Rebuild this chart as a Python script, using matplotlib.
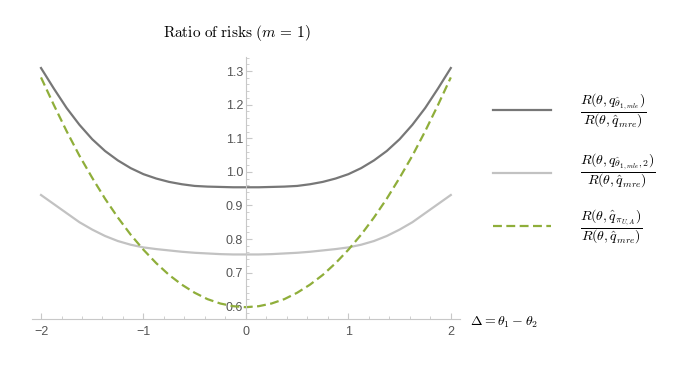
import matplotlib
matplotlib.use("Agg")
import matplotlib.pyplot as plt
from matplotlib.lines import Line2D
from matplotlib.ticker import MultipleLocator

plt.rcParams['mathtext.fontset'] = 'cm'
plt.rcParams['font.family'] = ['Liberation Sans', 'DejaVu Sans']

# values, step 0.125 in Delta
delta = [-2.0, -1.875, -1.75, -1.625, -1.5, -1.375, -1.25, -1.125, -1.0,
         -0.875, -0.75, -0.625, -0.5, -0.375, -0.25, -0.125, 0.0,
         0.125, 0.25, 0.375, 0.5, 0.625, 0.75, 0.875, 1.0,
         1.125, 1.25, 1.375, 1.5, 1.625, 1.75, 1.875, 2.0]
ratio_mle = [1.309, 1.248, 1.190, 1.140, 1.097, 1.062, 1.034, 1.011, 0.993,
             0.980, 0.970, 0.963, 0.958, 0.956, 0.955, 0.954, 0.954,
             0.954, 0.955, 0.956, 0.958, 0.963, 0.970, 0.980, 0.993,
             1.011, 1.034, 1.062, 1.097, 1.140, 1.190, 1.248, 1.309]
ratio_mle2 = [0.931, 0.904, 0.877, 0.850, 0.828, 0.809, 0.794, 0.783, 0.775,
              0.770, 0.766, 0.762, 0.759, 0.757, 0.755, 0.754, 0.754,
              0.754, 0.755, 0.757, 0.759, 0.762, 0.766, 0.770, 0.775,
              0.783, 0.794, 0.809, 0.828, 0.850, 0.877, 0.904, 0.931]
ratio_pi = [1.281, 1.199, 1.121, 1.048, 0.982, 0.920, 0.864, 0.813, 0.768,
            0.728, 0.693, 0.664, 0.640, 0.621, 0.608, 0.600, 0.597,
            0.600, 0.608, 0.621, 0.640, 0.664, 0.693, 0.728, 0.768,
            0.813, 0.864, 0.920, 0.982, 1.048, 1.121, 1.199, 1.281]

labels = [r'$\dfrac{R(\theta,q_{\hat{\theta}_{1,mle}})}{R(\theta,\hat{q}_{mre})}$',
          r'$\dfrac{R(\theta,q_{\hat{\theta}_{1,mle},2})}{R(\theta,\hat{q}_{mre})}$',
          r'$\dfrac{R(\theta,\hat{q}_{\pi_{U,A}})}{R(\theta,\hat{q}_{mre})}$']

c_dark = '#777777'
c_light = '#c2c2c2'
c_green = '#8fae3a'
axis_col = '#c8c8c8'

fig = plt.figure(figsize=(6.78, 3.69), dpi=100)
ax = fig.add_axes([0.0472, 0.1347, 0.631, 0.711])

l1, = ax.plot(delta, ratio_mle, color=c_dark, lw=1.6)
l2, = ax.plot(delta, ratio_mle2, color=c_light, lw=1.6)
l3, = ax.plot(delta, ratio_pi, color=c_green, lw=1.6, dashes=(4, 2))

ax.set_xlim(-2.088, 2.088)
ax.set_ylim(0.561, 1.342)

for s in ['top', 'right']:
    ax.spines[s].set_visible(False)
ax.spines['left'].set_position(('data', 0))
ax.spines['left'].set_color(axis_col)
ax.spines['bottom'].set_color(axis_col)
ax.patch.set_alpha(0)

ax.xaxis.set_minor_locator(MultipleLocator(0.2))
ax.yaxis.set_minor_locator(MultipleLocator(0.02))
ax.set_xticks([-2, -1, 0, 1, 2])
ax.set_xticklabels(['\u22122', '\u22121', '0', '1', '2'])
ax.set_yticks([0.6, 0.7, 0.8, 0.9, 1.0, 1.1, 1.2, 1.3])
ax.set_yticklabels(['0.6', '0.7', '0.8', '0.9', '1.0', '1.1', '1.2', '1.3'])
ax.tick_params(which='both', direction='in', color=axis_col, labelcolor='#555555',
               labelsize=9)
ax.tick_params(which='major', length=4)
ax.tick_params(which='minor', length=2.2)
ax.tick_params(axis='y', pad=2)
ax.tick_params(axis='x', pad=5)

fig.text(237 / 678, 1 - 33 / 369, r'$\mathrm{Ratio\ of\ risks}\ (m\,=\,1)$',
         ha='center', va='center', fontsize=11)
fig.text(470 / 678, 1 - 322 / 369, r'$\mathbf{\Delta} = \theta_1 - \theta_2$',
         ha='left', va='center', fontsize=10)

# legend on the right
key_y = [110, 173, 226]
lab_y = [111, 171, 227]
for line, ky, ly, lab in zip([l1, l2, l3], key_y, lab_y, labels):
    fig.add_artist(Line2D([493 / 678, 551 / 678], [1 - ky / 369, 1 - ky / 369],
                          color=line.get_color(), lw=line.get_linewidth(),
                          dashes=(4, 2) if line is l3 else (None, None)))
    fig.text(580 / 678, 1 - ly / 369, lab, ha='left', va='center', fontsize=10)

fig.savefig('out.png', dpi=100)
